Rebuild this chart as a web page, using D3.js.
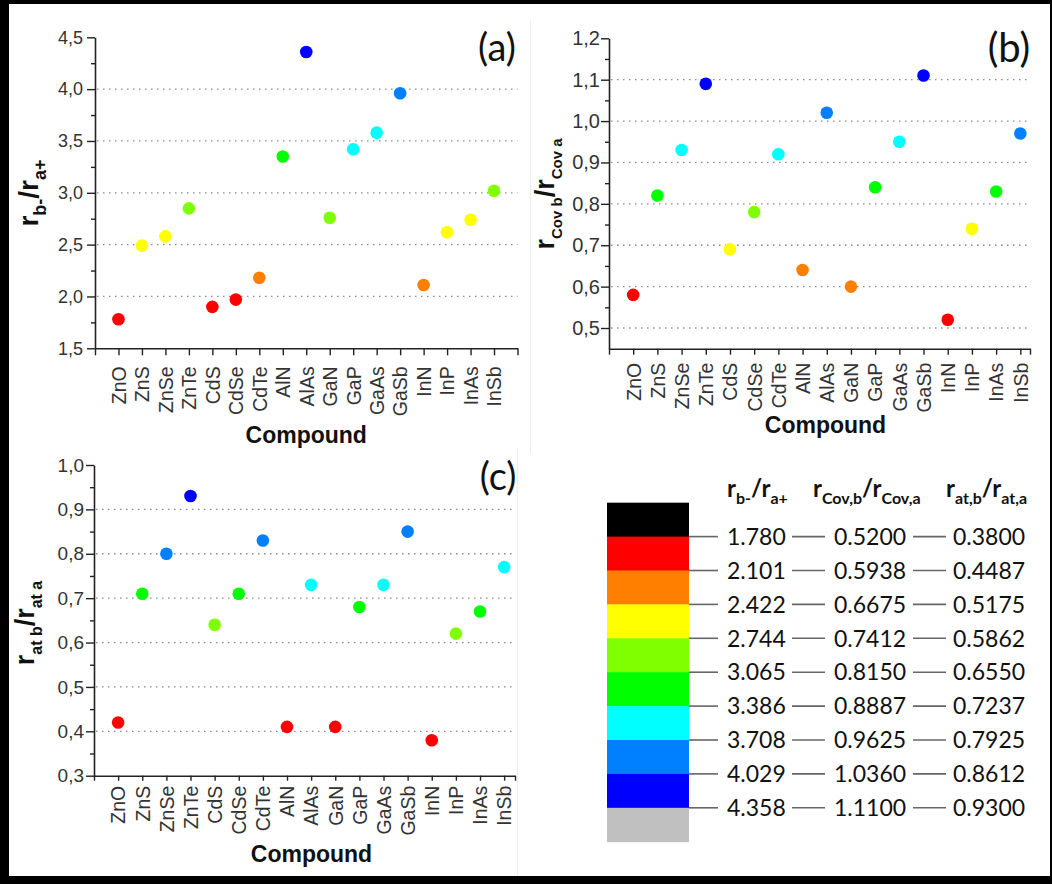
<!DOCTYPE html>
<html>
<head>
<meta charset="utf-8">
<script src="https://cdn.jsdelivr.net/npm/d3@7"></script>
<style>
  body { margin: 0; background: #fff; }
  svg { display: block; }
</style>
</head>
<body>
<script>
// compounds on the x axis
const compounds = ["ZnO", "ZnS", "ZnSe", "ZnTe", "CdS", "CdSe", "CdTe", "AlN", "AlAs",
  "GaN", "GaP", "GaAs", "GaSb", "InN", "InP", "InAs", "InSb"];

// (a) r_b- / r_a+
const ionicRatio = [1.78, 2.49, 2.58, 2.85, 1.90, 1.97, 2.18, 3.35, 4.358,
  2.76, 3.42, 3.58, 3.96, 2.11, 2.62, 2.74, 3.02];
// (b) r_cov,b / r_cov,a
const covalentRatio = [0.58, 0.82, 0.93, 1.09, 0.69, 0.78, 0.92, 0.64, 1.02,
  0.60, 0.84, 0.95, 1.11, 0.52, 0.74, 0.83, 0.97];
// (c) r_at,b / r_at,a
const atomicRatio = [0.42, 0.71, 0.80, 0.93, 0.64, 0.71, 0.83, 0.41, 0.73,
  0.41, 0.68, 0.73, 0.85, 0.38, 0.62, 0.67, 0.77];

// colour bar levels (one column per ratio)
const ionicLevels = [1.780, 2.101, 2.422, 2.744, 3.065, 3.386, 3.708, 4.029, 4.358];
const covalentLevels = [0.5200, 0.5938, 0.6675, 0.7412, 0.8150, 0.8887, 0.9625, 1.0360, 1.1100];
const atomicLevels = [0.3800, 0.4487, 0.5175, 0.5862, 0.6550, 0.7237, 0.7925, 0.8612, 0.9300];
const bandColors = ["#000000", "#ff0000", "#ff8000", "#ffff00", "#80ff00",
  "#00ff00", "#00ffff", "#0080ff", "#0000ff", "#c0c0c0"];

const width = 1052, height = 884;
const svg = d3.select("body").append("svg").attr("width", width).attr("height", height);

// black frame
svg.append("rect").attr("width", width).attr("height", height).attr("fill", "#000");
svg.append("rect").attr("x", 9).attr("y", 4).attr("width", 1041).attr("height", 872).attr("fill", "#fff");
// faint edges of the pasted panels
svg.append("line").attr("x1", 530.5).attr("x2", 530.5).attr("y1", 20).attr("y2", 453)
  .attr("stroke", "#ececec");
svg.append("line").attr("x1", 517.5).attr("x2", 517.5).attr("y1", 448).attr("y2", 876)
  .attr("stroke", "#ececec");

const sans = "'Liberation Sans', Arial, sans-serif";
const lato = "Lato, 'Open Sans', sans-serif";

// text like r_{b-}/r_{a+}: parts are [r, sub, /, r, sub]
function ratioText(sel, parts, size, subSize) {
  const shift = size * 0.3;
  parts.forEach((p, i) => {
    const isSub = i === 1 || i === 4;
    const t = sel.append("tspan").text(p).attr("font-size", isSub ? subSize : size);
    if (isSub) t.attr("dy", shift);
    else if (i === 2) t.attr("dy", -shift);
  });
}

function drawPanel(cfg, values, levels) {
  const g = svg.append("g");
  const x = d3.scaleLinear().domain([0, cfg.xMax]).range([cfg.x0, cfg.x1]);
  const y = d3.scaleLinear().domain(cfg.yDomain).range(cfg.yRange);
  const color = d3.scaleThreshold()
    .domain(levels.slice(1, -1))
    .range(bandColors.slice(1, -1));

  // dotted grid
  g.selectAll(".grid").data(cfg.grid).join("line")
    .attr("x1", cfg.x0 + 2).attr("x2", cfg.x1)
    .attr("y1", d => y(d)).attr("y2", d => y(d))
    .attr("stroke", "#8a8a8a").attr("stroke-width", 1.3)
    .attr("stroke-dasharray", "1.5,4.5");

  // minor y ticks
  g.append("g")
    .attr("transform", `translate(${cfg.x0},0)`)
    .call(d3.axisLeft(y).tickValues(cfg.minor).tickSize(4).tickSizeOuter(0).tickFormat(""))
    .call(a => a.select(".domain").remove())
    .call(a => a.selectAll("line").attr("stroke", "#222").attr("stroke-width", 1.4));

  // major y ticks
  g.append("g")
    .attr("transform", `translate(${cfg.x0},0)`)
    .call(d3.axisLeft(y).tickValues(cfg.major).tickSize(8).tickSizeOuter(0)
      .tickPadding(cfg.yPad)
      .tickFormat(d => d3.format(".1f")(d).replace(".", ",")))
    .call(a => a.select(".domain").attr("stroke", "#222").attr("stroke-width", 1.6))
    .call(a => a.selectAll("line").attr("stroke", "#222").attr("stroke-width", 1.4))
    .call(a => a.selectAll("text").attr("font-family", sans).attr("font-size", cfg.ySize)
      .attr("fill", "#333"));

  // x axis with compound names
  const xt = d3.range(0, Math.floor(cfg.xMax) + 1);
  if (cfg.xMax % 1 !== 0) xt.push(cfg.xMax);
  g.append("g")
    .attr("transform", `translate(0,${cfg.yRange[0]})`)
    .call(d3.axisBottom(x).tickValues(xt).tickSize(cfg.xTick).tickSizeOuter(0)
      .tickFormat(d => (Number.isInteger(d) && d >= 1 && d <= compounds.length) ? compounds[d - 1] : ""))
    .call(a => a.select(".domain").attr("stroke", "#222").attr("stroke-width", 1.6))
    .call(a => a.selectAll("line").attr("stroke", "#222").attr("stroke-width", 1.4))
    .call(a => a.selectAll("text")
      .attr("font-family", sans).attr("font-size", 19.5).attr("fill", "#333")
      .attr("transform", "rotate(-90)")
      .attr("x", -cfg.xGap).attr("y", 0).attr("dy", "0.35em")
      .attr("text-anchor", "end"));

  // points
  g.selectAll(".pt").data(values).join("circle")
    .attr("cx", (d, i) => x(i + 1))
    .attr("cy", d => y(d))
    .attr("r", 6.3)
    .attr("fill", d => color(d));

  // axis titles
  g.append("text")
    .attr("x", (cfg.x0 + cfg.x1) / 2 - cfg.titleShift).attr("y", cfg.titleY)
    .attr("text-anchor", "middle")
    .attr("font-family", sans).attr("font-weight", "bold").attr("font-size", 23)
    .attr("fill", "#111")
    .text("Compound");

  const yt = g.append("text")
    .attr("transform", `translate(${cfg.yTitle[0]},${cfg.yTitle[1]}) rotate(-90)`)
    .attr("text-anchor", "middle")
    .attr("font-family", sans).attr("font-weight", "bold").attr("fill", "#111");
  ratioText(yt, cfg.yLabel, cfg.yLabelSize[0], cfg.yLabelSize[1]);

  g.append("text")
    .attr("x", cfg.tag[0]).attr("y", cfg.tag[1])
    .attr("text-anchor", "middle")
    .attr("font-family", lato).attr("font-size", cfg.tagSize).attr("fill", "#111")
    .text(cfg.tagText);
}

drawPanel({
  x0: 95, x1: 517.5, xMax: 18, yDomain: [1.5, 4.5], yRange: [348.3, 37.3],
  major: d3.range(1.5, 4.51, 0.5), minor: d3.range(1.75, 4.5, 0.5), grid: d3.range(2, 4.01, 0.5),
  yPad: 4, ySize: 18, xTick: 7, xGap: 18,
  titleY: 443, titleShift: 0, yTitle: [38, 193], yLabel: ["r", "b-", "/", "r", "a+"], yLabelSize: [28, 18],
  tag: [497, 61], tagSize: 38, tagText: "(a)"
}, ionicRatio, ionicLevels);

drawPanel({
  x0: 609, x1: 1030, xMax: 17.4, yDomain: [0.45, 1.2], yRange: [348.7, 38.3],
  major: d3.range(0.5, 1.201, 0.1), minor: d3.range(0.55, 1.2, 0.1), grid: d3.range(0.5, 1.101, 0.1),
  yPad: 1, ySize: 20, xTick: 6, xGap: 14,
  titleY: 433, titleShift: -6, yTitle: [554, 194], yLabel: ["r", "Cov b", "/", "r", "Cov a"], yLabelSize: [27, 15],
  tag: [1009, 62], tagSize: 40, tagText: "(b)"
}, covalentRatio, covalentLevels);

drawPanel({
  x0: 94, x1: 515, xMax: 17.45, yDomain: [0.3, 1.0], yRange: [775.7, 465],
  major: d3.range(0.3, 1.001, 0.1), minor: d3.range(0.35, 1.0, 0.1), grid: d3.range(0.4, 0.901, 0.1),
  yPad: 2, ySize: 19, xTick: 5, xGap: 10,
  titleY: 862, titleShift: -7, yTitle: [34, 623], yLabel: ["r", "at b", "/", "r", "at a"], yLabelSize: [27, 16],
  tag: [498, 490], tagSize: 38, tagText: "(c)"
}, atomicRatio, atomicLevels);

// colour bar legend
const barX = 607, barW = 82, barTop = 502.7, bandH = 33.9;
const band = d3.scaleBand().domain(d3.range(bandColors.length))
  .range([barTop, barTop + bandH * bandColors.length]).padding(0);
const leg = svg.append("g");
leg.selectAll("rect").data(bandColors).join("rect")
  .attr("x", barX).attr("y", (d, i) => band(i))
  .attr("width", barW).attr("height", band.bandwidth() + 0.5)
  .attr("fill", d => d);

const rows = ionicLevels.map((v, i) => ({ i, a: v, b: covalentLevels[i], c: atomicLevels[i] }));
const rowY = d => band(d.i + 1);
const dash = [[barX + barW, 718], [792, 825], [913, 946]];
dash.forEach(([x1, x2]) => {
  leg.selectAll(null).data(rows).join("line")
    .attr("x1", x1).attr("x2", x2)
    .attr("y1", rowY).attr("y2", rowY)
    .attr("stroke", "#666").attr("stroke-width", 1.6);
});
const cols = [["a", 727, d3.format(".3f")], ["b", 834, d3.format(".4f")], ["c", 953, d3.format(".4f")]];
cols.forEach(([k, cx, f]) => {
  leg.selectAll(null).data(rows).join("text")
    .attr("x", cx).attr("y", rowY).attr("dy", "0.36em")
    .attr("font-family", lato).attr("font-size", 23).attr("fill", "#111")
    .text(d => f(d[k]));
});

const heads = [
  [727, ["r", "b-", "/", "r", "a+"]],
  [813, ["r", "Cov,b", "/", "r", "Cov,a"]],
  [946, ["r", "at,b", "/", "r", "at,a"]]
];
heads.forEach(([hx, parts]) => {
  const t = leg.append("text").attr("x", hx).attr("y", 497)
    .attr("font-family", lato).attr("font-weight", "bold").attr("fill", "#111");
  ratioText(t, parts, 24, 16);
});
</script>
</body>
</html>
